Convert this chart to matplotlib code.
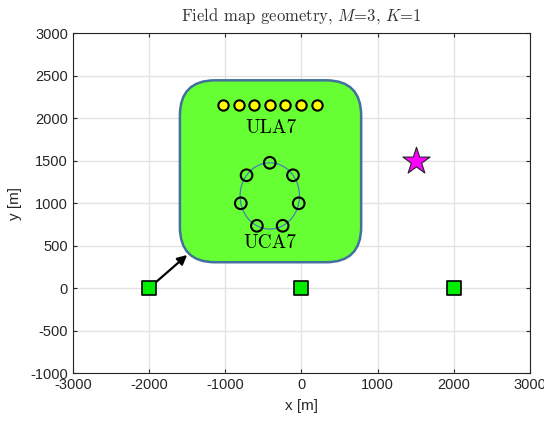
import numpy as np
import matplotlib
matplotlib.use("Agg")
import matplotlib.pyplot as plt
from matplotlib.patches import FancyBboxPatch

plt.rcParams['mathtext.fontset'] = 'cm'
plt.rcParams['axes.unicode_minus'] = False

# anchor nodes and source
anchor_x = [-2000, 0, 2000]
anchor_y = [0, 0, 0]
source_x = [1500]
source_y = [1500]

# ULA7 elements (inset)
ula_x = [-1030, -825, -620, -415, -210, -5, 200]
ula_y = [2150] * 7

# UCA7 elements (inset)
uca_cx, uca_cy, uca_r = -415, 1085, 390
uca_ang = np.deg2rad(90 + np.arange(7) * 360 / 7)

fig = plt.figure(figsize=(5.44, 4.25), dpi=100)
ax = fig.add_axes([0.134, 0.122, 0.84, 0.80])

ax.set_xlim(-3000, 3000)
ax.set_ylim(-1000, 3000)
ax.set_xticks(np.arange(-3000, 3001, 1000))
ax.set_yticks(np.arange(-1000, 3001, 500))
ax.grid(True, color='#e3e3e3', linewidth=1.0)
ax.set_axisbelow(True)
ax.tick_params(direction='in', top=True, right=True, length=3,
               labelsize=10.5, colors='#262626')
for lbl in ax.get_xticklabels() + ax.get_yticklabels():
    lbl.set_fontfamily('Liberation Sans')
for s in ax.spines.values():
    s.set_color('#262626')
    s.set_linewidth(0.8)

ax.set_xlabel('x [m]', fontsize=11, family='Liberation Sans', color='#262626', labelpad=5)
ax.set_ylabel('y [m]', fontsize=11, family='Liberation Sans', color='#262626', labelpad=6)
ax.set_title(r'Field map geometry, $M$=3, $K$=1', fontsize=12,
             family='cmr10', color='#333333', pad=9)

# arrow from first anchor to inset
ax.annotate('', xy=(-1500, 390), xytext=(-2000, 0),
            arrowprops=dict(arrowstyle='-|>', color='black', lw=1.6,
                            mutation_scale=14, shrinkA=0, shrinkB=0), zorder=3)

ax.scatter(anchor_x, anchor_y, marker='s', s=115, facecolor='#00ee00',
           edgecolor='black', linewidth=1.2, zorder=4)
ax.scatter(source_x, source_y, marker='*', s=420, facecolor='#ff00ff',
           edgecolor='#222222', linewidth=0.8, zorder=4)

# inset box
box = FancyBboxPatch((-1595, 305), 2380, 2140,
                     boxstyle='round,pad=0,rounding_size=460',
                     mutation_aspect=0.9,
                     facecolor='#66ff33', edgecolor='#41719c', linewidth=1.8, zorder=5)
ax.add_patch(box)

ax.scatter(ula_x, ula_y, s=55, facecolor='yellow', edgecolor='black',
           linewidth=1.5, zorder=6)
t = np.linspace(0, 2 * np.pi, 200)
ax.plot(uca_cx + uca_r * np.cos(t), uca_cy + uca_r * np.sin(t),
        color='#4472c4', linewidth=0.8, zorder=6)
ax.scatter(uca_cx + uca_r * np.cos(uca_ang), uca_cy + uca_r * np.sin(uca_ang),
           s=70, facecolor='none', edgecolor='black', linewidth=1.5, zorder=7)

ax.text(-400, 1880, 'ULA7', fontsize=14, family='cmr10',
        ha='center', va='center', zorder=7)
ax.text(-420, 530, 'UCA7', fontsize=14, family='cmr10',
        ha='center', va='center', zorder=7)

fig.savefig('out.png', dpi=100)
